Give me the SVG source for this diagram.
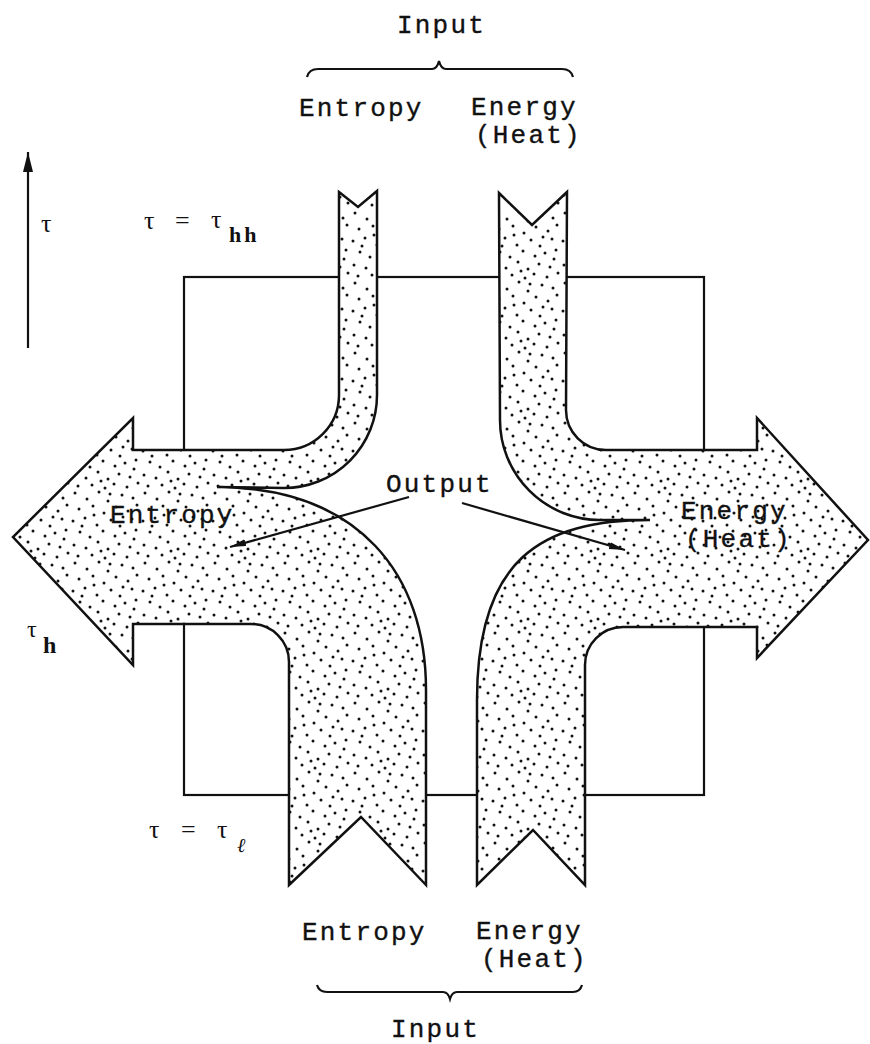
<svg xmlns="http://www.w3.org/2000/svg" width="870" height="1044" viewBox="0 0 870 1044">
<style>
.mono{font-family:"Liberation Mono","DejaVu Sans Mono",monospace;font-size:26px;letter-spacing:2.2px;fill:#111;stroke:#111;stroke-width:0.35}
.ser{font-family:"Liberation Serif","DejaVu Serif",serif;fill:#111}
.out{stroke:#111;stroke-width:2.5;stroke-linejoin:miter;fill:url(#stip)}
.ln{stroke:#111;stroke-width:2.2;fill:none}
.d{fill:#111}
</style>
<defs>
<pattern id="stip" width="70" height="70" patternUnits="userSpaceOnUse">
<rect width="70" height="70" fill="#fff"/>
<g class="d">
<circle cx="5" cy="3" r="1.5"/><circle cx="17" cy="9" r="1.5"/><circle cx="29" cy="2" r="1.5"/><circle cx="38" cy="11" r="1.5"/><circle cx="52" cy="5" r="1.5"/><circle cx="63" cy="8" r="1.5"/>
<circle cx="9" cy="19" r="1.5"/><circle cx="23" cy="16" r="1.5"/><circle cx="34" cy="23" r="1.5"/><circle cx="46" cy="17" r="1.5"/><circle cx="58" cy="21" r="1.5"/><circle cx="67" cy="15" r="1.5"/>
<circle cx="3" cy="31" r="1.5"/><circle cx="15" cy="28" r="1.5"/><circle cx="27" cy="35" r="1.5"/><circle cx="41" cy="30" r="1.5"/><circle cx="50" cy="36" r="1.5"/><circle cx="62" cy="29" r="1.5"/>
<circle cx="10" cy="42" r="1.5"/><circle cx="20" cy="47" r="1.5"/><circle cx="33" cy="41" r="1.5"/><circle cx="45" cy="46" r="1.5"/><circle cx="55" cy="43" r="1.5"/><circle cx="66" cy="40" r="1.5"/>
<circle cx="4" cy="55" r="1.5"/><circle cx="16" cy="58" r="1.5"/><circle cx="28" cy="52" r="1.5"/><circle cx="38" cy="59" r="1.5"/><circle cx="49" cy="54" r="1.5"/><circle cx="60" cy="57" r="1.5"/>
<circle cx="8" cy="66" r="1.5"/><circle cx="22" cy="65" r="1.5"/><circle cx="35" cy="68" r="1.5"/><circle cx="44" cy="64" r="1.5"/><circle cx="57" cy="67" r="1.5"/><circle cx="68" cy="63" r="1.5"/>
<circle cx="12" cy="36" r="1.5"/><circle cx="53" cy="27" r="1.5"/><circle cx="31" cy="61" r="1.5"/><circle cx="64" cy="49" r="1.5"/><circle cx="40" cy="4" r="1.5"/><circle cx="24" cy="25" r="1.5"/>
</g>
</pattern>
<marker id="ah" markerUnits="userSpaceOnUse" markerWidth="17" markerHeight="8" refX="16" refY="3.5" orient="auto">
<path d="M0,0 L16,3.5 L0,7 Z" fill="#111"/>
</marker>
<marker id="ahb" markerUnits="userSpaceOnUse" markerWidth="21" markerHeight="11" refX="20" refY="5" orient="auto">
<path d="M0,0 L20,5 L0,10 Z" fill="#111"/>
</marker>
</defs>

<g id="box">
<rect x="184" y="277" width="520" height="518" class="ln"/>
</g>

<g id="entropy-stream">
<path class="out" d="M339,192 L358,207 L377,191 L377,395 A93,93 0 0 1 284,488 L217,487 C360,488 426,575 426,690 L426,885 L361,817 L289,885 L289,662 A38,38 0 0 0 251,624 L133,624 L133,665 L13,537 L133,418 L133,450 L284,450 A55,55 0 0 0 339,395 Z"/>
</g>

<g id="energy-stream">
<path class="out" d="M499,193 L532,225 L567,192 L566,410 A40,40 0 0 0 606,450 L757,450 L757,418 L868,540 L757,658 L757,627 L623,627 A38,38 0 0 0 585,665 L585,885 L533,830 L477,885 L477,700 C477,560 540,520 650,520 L600,520 A100,100 0 0 1 500,420 Z"/>
</g>

<g id="connectors">
<line x1="409" y1="497" x2="230" y2="547" class="ln" stroke-width="1.8" marker-end="url(#ah)"/>
<line x1="462" y1="503" x2="625" y2="550" class="ln" stroke-width="1.8" marker-end="url(#ah)"/>
<line x1="28" y1="348" x2="28" y2="152" class="ln" marker-end="url(#ahb)"/>
</g>

<g id="braces">
<path class="ln" d="M307,77 Q309,69 318,69 L432,69 Q437,69 439,61 Q441,69 446,69 L562,69 Q571,69 573,77"/>
<path class="ln" d="M317,985 Q319,992 327,992 L443,992 Q448,992 450,999 Q452,992 457,992 L573,992 Q580,992 582,985"/>
</g>

<g id="labels">
<text class="mono" x="397" y="33">Input</text>
<text class="mono" x="299" y="116">Entropy</text>
<text class="mono" x="471" y="115">Energy</text>
<text class="mono" x="475" y="143">(Heat)</text>
<text class="mono" x="110" y="523">Entropy</text>
<text class="mono" x="386" y="492">Output</text>
<text class="mono" x="681" y="519">Energy</text>
<text class="mono" x="685" y="547">(Heat)</text>
<text class="mono" x="302" y="940">Entropy</text>
<text class="mono" x="476" y="939">Energy</text>
<text class="mono" x="481" y="967">(Heat)</text>
<text class="mono" x="391" y="1037">Input</text>

<text class="ser" x="41" y="232" font-size="26">τ</text>
<text class="ser" x="144" y="229" font-size="26">τ</text>
<text class="ser" x="175" y="229" font-size="26">=</text>
<text class="ser" x="211" y="228" font-size="26">τ</text>
<text class="ser" x="229" y="242" font-size="22" font-weight="bold" letter-spacing="3">hh</text>

<text class="ser" x="27" y="637" font-size="24">τ</text>
<text class="ser" x="43" y="653" font-size="24" font-weight="bold">h</text>

<text class="ser" x="149" y="838" font-size="26">τ</text>
<text class="ser" x="181" y="838" font-size="26">=</text>
<text class="ser" x="217" y="838" font-size="26">τ</text>
<text class="ser" x="237" y="852" font-size="20" font-style="italic">ℓ</text>
</g>
</svg>
